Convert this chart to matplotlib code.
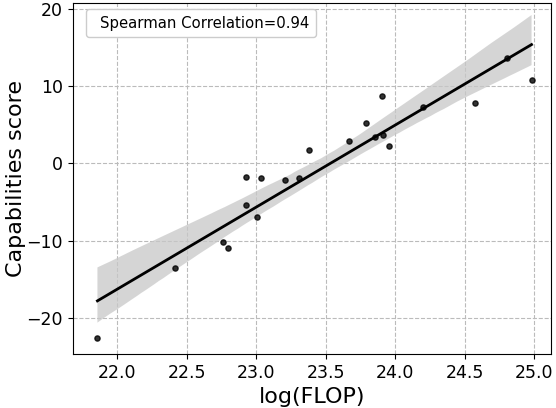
import matplotlib
matplotlib.use("Agg")
import matplotlib.pyplot as plt
import numpy as np
import seaborn as sns

# log(FLOP) vs capabilities score
log_flop = [21.857, 22.413, 22.760, 22.798, 22.926, 22.926, 23.003, 23.034,
            23.205, 23.304, 23.380, 23.664, 23.786, 23.857, 23.907, 23.912,
            23.953, 24.198, 24.576, 24.802, 24.980]
cap_score = [-22.6, -13.5, -10.2, -10.9, -5.4, -1.8, -6.9, -1.9,
             -2.2, -1.9, 1.7, 2.9, 5.2, 3.4, 8.7, 3.7,
             2.3, 7.3, 7.8, 13.7, 10.8]
corr_label = "Spearman Correlation=0.94"

fig, ax = plt.subplots(figsize=(5.56, 4.08), dpi=100)
fig.subplots_adjust(left=0.131, right=0.991, top=0.993, bottom=0.132)

sns.regplot(x=np.array(log_flop), y=np.array(cap_score), ax=ax, ci=95,
            seed=3, color="black",
            scatter_kws={"s": 14, "color": "black", "zorder": 3},
            line_kws={"color": "black", "lw": 2})
# band colour
for coll in ax.collections[1:]:
    coll.set_facecolor("#c8c8c8")
    coll.set_alpha(0.75)

ax.plot([], [], " ", label=corr_label)
ax.legend(loc="upper left", bbox_to_anchor=(0.027, 0.983), borderaxespad=0,
          handlelength=0, handletextpad=0.5, fontsize=10.7, framealpha=1,
          borderpad=0.45)

ax.set_xlim(21.68, 25.12)
ax.set_ylim(-24.7, 20.8)
ax.set_xticks([22.0, 22.5, 23.0, 23.5, 24.0, 24.5, 25.0])
ax.set_yticks([-20, -10, 0, 10, 20])
ax.tick_params(labelsize=12.5)
ax.grid(True, linestyle="--", color="#bbbbbb", lw=0.8)
ax.set_axisbelow(True)
ax.set_xlabel("log(FLOP)", fontsize=16)
ax.set_ylabel("Capabilities score", fontsize=16)
ax.yaxis.set_label_coords(-0.098, 0.5)

fig.savefig("out.png", dpi=100)
